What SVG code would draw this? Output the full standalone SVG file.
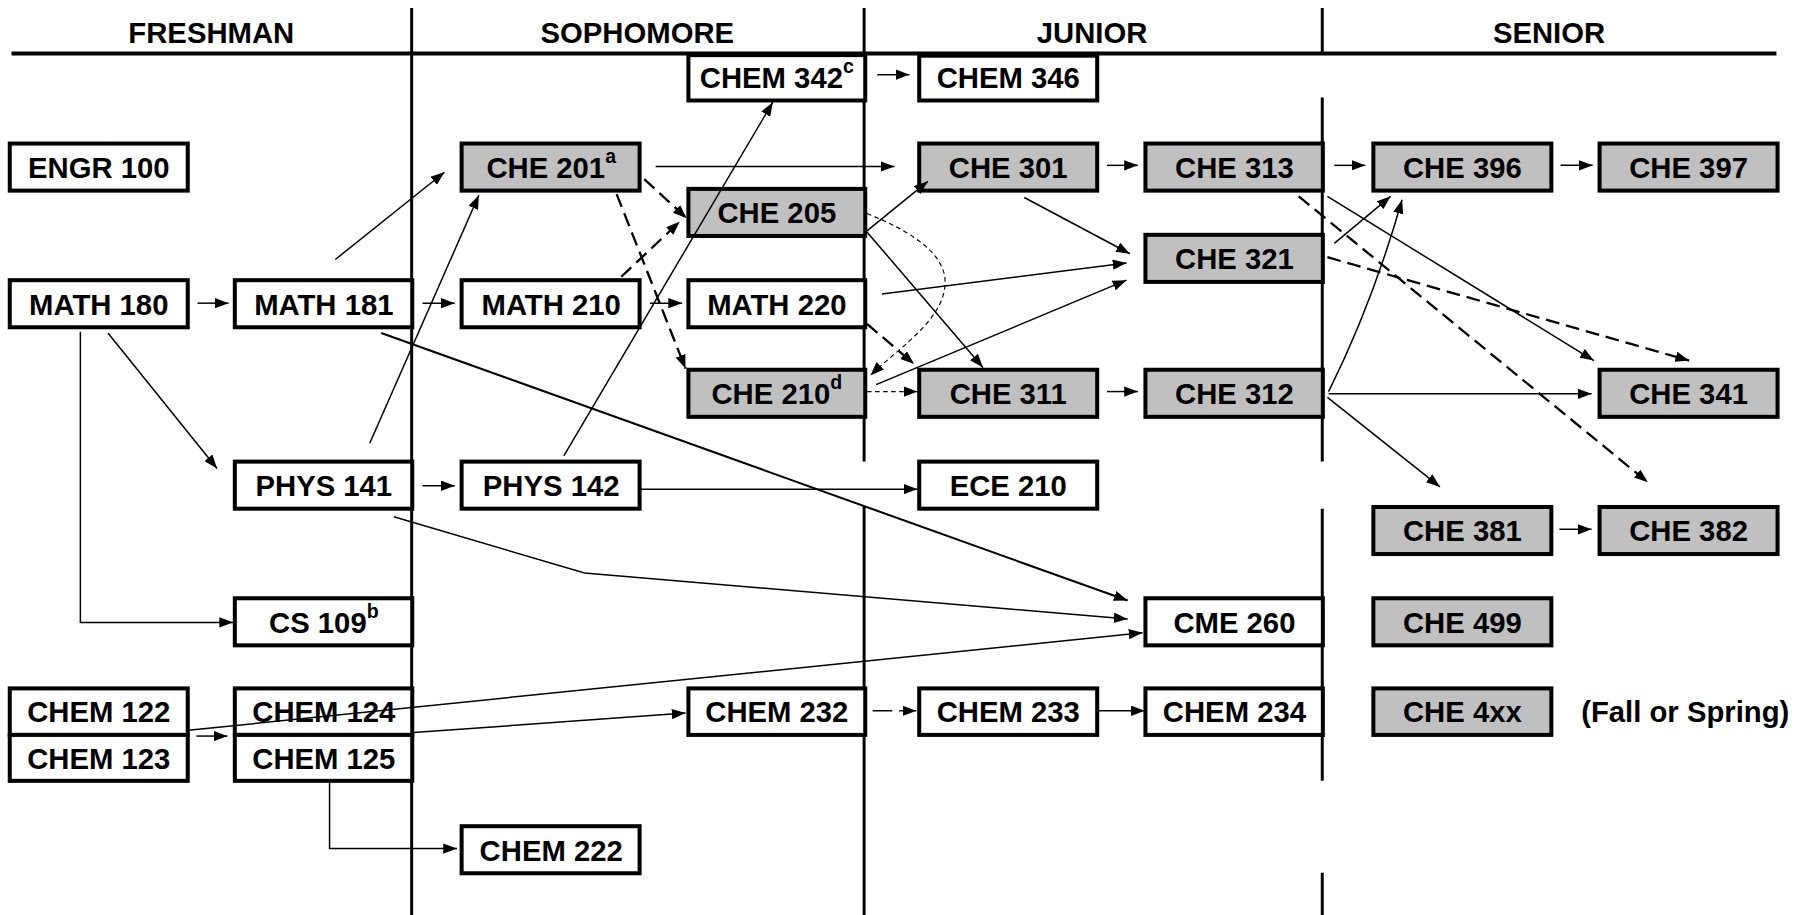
<svg xmlns="http://www.w3.org/2000/svg" width="1804" height="915" viewBox="0 0 1804 915">
<defs>
<marker id="ah" markerUnits="userSpaceOnUse" markerWidth="12" markerHeight="9" refX="12" refY="4.5" orient="auto">
<path d="M0,0 L12,4.5 L0,9 z" fill="#000"/>
</marker>
</defs>
<style>
.box{fill:#fff;stroke:#000;stroke-width:3.5}
.g{fill:#c0c0c0}
text{font-family:"Liberation Sans",Arial,sans-serif;font-weight:bold;font-size:25.5px;text-anchor:middle;fill:#000}
.sup{font-size:17px}
.hdr{font-size:25.5px}
.div{stroke:#000;stroke-width:2.6;fill:none}
.c{fill:none;stroke:#000;stroke-width:1.3;marker-end:url(#ah)}
.d{stroke-dasharray:12 6;stroke-width:2}
.f{stroke-dasharray:4 3;stroke-width:1}
</style>
<rect x="0" y="0" width="1804" height="915" fill="#fff"/>
<g transform="scale(1.1483)">
<g id="frame">
<line class="div" x1="10" y1="46.5" x2="1547" y2="46.5" style="stroke-width:3.5"/>
<line class="div" x1="358.5" y1="7" x2="358.5" y2="797"/>
<line class="div" x1="752.5" y1="7" x2="752.5" y2="402"/>
<line class="div" x1="752.5" y1="441" x2="752.5" y2="797"/>
<line class="div" x1="1151.5" y1="7" x2="1151.5" y2="47"/>
<line class="div" x1="1151.5" y1="85" x2="1151.5" y2="402"/>
<line class="div" x1="1151.5" y1="443" x2="1151.5" y2="680"/>
<line class="div" x1="1151.5" y1="760" x2="1151.5" y2="797"/>
<text class="hdr" x="184" y="37.5">FRESHMAN</text>
<text class="hdr" x="555" y="37.5">SOPHOMORE</text>
<text class="hdr" x="951" y="37.5">JUNIOR</text>
<text class="hdr" x="1349" y="37.5">SENIOR</text>
</g>
<g id="engr100"><rect class="box" x="8.5" y="125" width="155" height="41"/><text x="86" y="155">ENGR 100</text></g>
<g id="math180"><rect class="box" x="8.5" y="244" width="155" height="41"/><text x="86" y="274">MATH 180</text></g>
<g id="chem122"><rect class="box" x="8.5" y="599.5" width="155" height="40.5"/><text x="86" y="629">CHEM 122</text></g>
<g id="chem123"><rect class="box" x="8.5" y="640" width="155" height="40"/><text x="86" y="669.5">CHEM 123</text></g>
<g id="math181"><rect class="box" x="204.5" y="244" width="154.5" height="41"/><text x="282" y="274">MATH 181</text></g>
<g id="phys141"><rect class="box" x="204.5" y="402" width="154.5" height="41"/><text x="282" y="432">PHYS 141</text></g>
<g id="cs109"><rect class="box" x="204.5" y="521" width="154.5" height="41"/><text x="282" y="551">CS 109<tspan class="sup" dy="-13">b</tspan></text></g>
<g id="chem124"><rect class="box" x="204.5" y="599.5" width="154.5" height="40.5"/><text x="282" y="629">CHEM 124</text></g>
<g id="chem125"><rect class="box" x="204.5" y="640" width="154.5" height="40"/><text x="282" y="669.5">CHEM 125</text></g>
<g id="che201"><rect class="box g" x="402" y="125" width="155" height="41"/><text x="480" y="155">CHE 201<tspan class="sup" dy="-13">a</tspan></text></g>
<g id="math210"><rect class="box" x="402" y="244" width="155" height="41"/><text x="480" y="274">MATH 210</text></g>
<g id="phys142"><rect class="box" x="402" y="402" width="155" height="41"/><text x="480" y="432">PHYS 142</text></g>
<g id="chem222"><rect class="box" x="402" y="719.5" width="155" height="41"/><text x="480" y="749.5">CHEM 222</text></g>
<g id="chem342"><rect class="box" x="599.5" y="48" width="154" height="39.5"/><text x="676.5" y="77">CHEM 342<tspan class="sup" dy="-13">c</tspan></text></g>
<g id="che205"><rect class="box g" x="599.5" y="164.5" width="154" height="41"/><text x="676.5" y="194.5">CHE 205</text></g>
<g id="math220"><rect class="box" x="599.5" y="244" width="154" height="41"/><text x="676.5" y="274">MATH 220</text></g>
<g id="che210"><rect class="box g" x="599.5" y="322" width="154" height="41"/><text x="676.5" y="352">CHE 210<tspan class="sup" dy="-13">d</tspan></text></g>
<g id="chem232"><rect class="box" x="599.5" y="599.5" width="154" height="40.5"/><text x="676.5" y="629">CHEM 232</text></g>
<g id="chem346"><rect class="box" x="800.5" y="48.5" width="155" height="39"/><text x="878" y="77">CHEM 346</text></g>
<g id="che301"><rect class="box g" x="800.5" y="125" width="155" height="41"/><text x="878" y="155">CHE 301</text></g>
<g id="che311"><rect class="box g" x="800.5" y="322" width="155" height="41"/><text x="878" y="352">CHE 311</text></g>
<g id="ece210"><rect class="box" x="800.5" y="402" width="155" height="41"/><text x="878" y="432">ECE 210</text></g>
<g id="chem233"><rect class="box" x="800.5" y="599.5" width="155" height="40.5"/><text x="878" y="629">CHEM 233</text></g>
<g id="che313"><rect class="box g" x="997.5" y="125" width="154.5" height="41"/><text x="1075" y="155">CHE 313</text></g>
<g id="che321"><rect class="box g" x="997.5" y="204.5" width="154.5" height="41"/><text x="1075" y="234.5">CHE 321</text></g>
<g id="che312"><rect class="box g" x="997.5" y="322" width="154.5" height="41"/><text x="1075" y="352">CHE 312</text></g>
<g id="cme260"><rect class="box" x="997.5" y="521" width="154.5" height="41"/><text x="1075" y="551">CME 260</text></g>
<g id="chem234"><rect class="box" x="997.5" y="599.5" width="154.5" height="40.5"/><text x="1075" y="629">CHEM 234</text></g>
<g id="che396"><rect class="box g" x="1196" y="125" width="155" height="41"/><text x="1273.5" y="155">CHE 396</text></g>
<g id="che381"><rect class="box g" x="1196" y="441.5" width="155" height="41"/><text x="1273.5" y="471.5">CHE 381</text></g>
<g id="che499"><rect class="box g" x="1196" y="521" width="155" height="41"/><text x="1273.5" y="551">CHE 499</text></g>
<g id="che4xx"><rect class="box g" x="1196" y="599.5" width="155" height="40.5"/><text x="1273.5" y="629">CHE 4xx</text></g>
<g id="che397"><rect class="box g" x="1393" y="125" width="155" height="41"/><text x="1470.5" y="155">CHE 397</text></g>
<g id="che341"><rect class="box g" x="1393" y="322" width="155" height="41"/><text x="1470.5" y="352">CHE 341</text></g>
<g id="che382"><rect class="box g" x="1393" y="441.5" width="155" height="41"/><text x="1470.5" y="471.5">CHE 382</text></g>
<g id="note"><text x="1377" y="629" style="text-anchor:start">(Fall or Spring)</text></g>
<g id="connectors">
<line class="c" x1="172" y1="264" x2="199" y2="264"/>
<line class="c" x1="368" y1="264" x2="396" y2="264"/>
<line class="c" x1="566" y1="264" x2="594" y2="264"/>
<line class="c" x1="292" y1="226" x2="387" y2="150"/>
<line class="c" x1="322" y1="386" x2="417" y2="170"/>
<line class="c" x1="94" y1="290" x2="189" y2="408"/>
<polyline class="c" points="70,289 70,542 203,542"/>
<line class="c" x1="332" y1="290" x2="982" y2="523" style="stroke-width:1.8"/>
<polyline class="c" points="343,450 509,499 982,539"/>
<line class="c" x1="164" y1="636" x2="995" y2="551"/>
<line class="c" x1="360" y1="638" x2="597" y2="621"/>
<line class="c" x1="171" y1="641" x2="198" y2="641"/>
<polyline class="c" points="287,681 287,739 398,739"/>
<line class="c" x1="760" y1="619" x2="798" y2="619" style="stroke-dasharray:17 6"/>
<line class="c" x1="956" y1="619" x2="997" y2="619"/>
<line class="c" x1="368" y1="423" x2="396" y2="423"/>
<line class="c" x1="557" y1="426" x2="799" y2="426"/>
<line class="c" x1="491" y1="397" x2="673" y2="89"/>
<line class="c" x1="764" y1="65" x2="792" y2="65"/>
<line class="c" x1="571" y1="145" x2="779" y2="145"/>
<line class="c d" x1="561" y1="156" x2="598" y2="190"/>
<line class="c d" x1="537" y1="169" x2="597" y2="321"/>
<line class="c d" x1="541" y1="241" x2="592" y2="193"/>
<line class="c" x1="755" y1="201" x2="808" y2="158"/>
<line class="c" x1="755" y1="202" x2="856" y2="320"/>
<path class="c f" d="M755,186 C790,200 825,220 823,248 C821,280 780,305 758,327"/>
<line class="c d" x1="755" y1="282" x2="796" y2="317"/>
<line class="c" x1="768" y1="256" x2="981" y2="229"/>
<line class="c" x1="763" y1="335" x2="981" y2="244"/>
<line class="c f" x1="755" y1="341" x2="799" y2="341"/>
<line class="c" x1="964" y1="144" x2="991" y2="144"/>
<line class="c" x1="892" y1="172" x2="984" y2="221"/>
<line class="c" x1="1162" y1="144" x2="1189" y2="144"/>
<line class="c" x1="1359" y1="144" x2="1387" y2="144"/>
<line class="c" x1="964" y1="341" x2="991" y2="341"/>
<line class="c" x1="1162" y1="212" x2="1211" y2="171"/>
<path class="c" d="M1157,341 Q1195,265 1221,174"/>
<line class="c d" x1="1156" y1="224" x2="1471" y2="314"/>
<line class="c" x1="1156" y1="171" x2="1388" y2="314"/>
<line class="c d" x1="1131" y1="171" x2="1435" y2="420"/>
<line class="c" x1="1157" y1="343" x2="1386" y2="343"/>
<line class="c" x1="1156" y1="346" x2="1254" y2="424"/>
<line class="c" x1="1358" y1="461" x2="1386" y2="461"/>
</g>
</g>
</svg>
